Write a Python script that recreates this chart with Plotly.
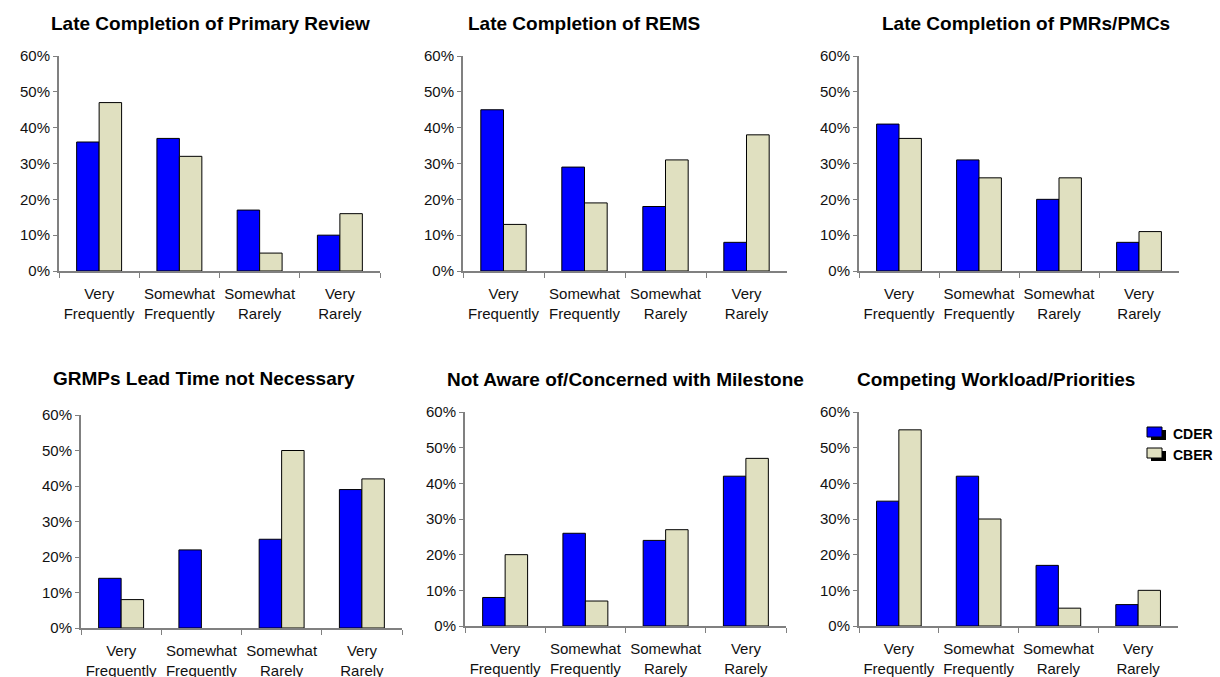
import plotly.graph_objects as go

# Response categories shared by every panel
categories = ["Very<br>Frequently", "Somewhat<br>Frequently", "Somewhat<br>Rarely", "Very<br>Rarely"]

titles = [
    "Late Completion of Primary Review",
    "Late Completion of REMS",
    "Late Completion of PMRs/PMCs",
    "GRMPs Lead Time not Necessary",
    "Not Aware of/Concerned with Milestone",
    "Competing Workload/Priorities",
]

# Share of respondents (fraction) per category
cder_primary_review = [0.36, 0.37, 0.17, 0.10]
cber_primary_review = [0.47, 0.32, 0.05, 0.16]

cder_rems = [0.45, 0.29, 0.18, 0.08]
cber_rems = [0.13, 0.19, 0.31, 0.38]

cder_pmr_pmc = [0.41, 0.31, 0.20, 0.08]
cber_pmr_pmc = [0.37, 0.26, 0.26, 0.11]

cder_grmp_lead = [0.14, 0.22, 0.25, 0.39]
cber_grmp_lead = [0.08, 0.00, 0.50, 0.42]

cder_not_aware = [0.08, 0.26, 0.24, 0.42]
cber_not_aware = [0.20, 0.07, 0.27, 0.47]

cder_workload = [0.35, 0.42, 0.17, 0.06]
cber_workload = [0.55, 0.30, 0.05, 0.10]

cder_series = [cder_primary_review, cder_rems, cder_pmr_pmc,
               cder_grmp_lead, cder_not_aware, cder_workload]
cber_series = [cber_primary_review, cber_rems, cber_pmr_pmc,
               cber_grmp_lead, cber_not_aware, cber_workload]

W, H = 1220, 677
BLUE = "#0000FF"
BEIGE = "#E0E0C0"
AXIS_GRAY = "#808080"
FONT = "Liberation Sans, Arial, sans-serif"

# plot area of each panel in pixels: (left, right, top, bottom)
boxes = [
    (59, 380, 56, 271),
    (463, 787, 56, 271),
    (859, 1179, 56, 271),
    (81, 402, 415, 628),
    (465, 786, 412, 626),
    (859, 1178, 412, 626),
]
# title centre positions in pixels
title_pos = [(210, 23), (584, 23), (1026, 23), (204, 378), (625, 380), (996, 380)]

fig = go.Figure()
layout = {}
annotations = []

for i, (box, title) in enumerate(zip(boxes, titles)):
    n = i + 1
    xa = "x" if n == 1 else f"x{n}"
    ya = "y" if n == 1 else f"y{n}"
    for name, vals, color in (("CDER", cder_series[i], BLUE), ("CBER", cber_series[i], BEIGE)):
        # empty bars get no outline so nothing shows on the baseline
        edge = [0 if v == 0 else 1 for v in vals]
        fig.add_trace(go.Bar(
            x=categories, y=vals, name=name, xaxis=xa, yaxis=ya,
            marker=dict(color=color, line=dict(color="#000000", width=edge)),
            showlegend=False,
        ))
    l, r, t, b = box
    layout[f"xaxis{n if n > 1 else ''}"] = dict(
        domain=[l / W, r / W], anchor=ya, type="category",
        showline=True, linecolor=AXIS_GRAY, linewidth=2,
        ticks="outside", tickson="boundaries", ticklen=5, tickcolor=AXIS_GRAY, tickwidth=1,
        ticklabelstandoff=8, tickangle=0, automargin=False,
        showgrid=False, zeroline=False,
        tickfont=dict(family=FONT, size=15, color="#111111"),
    )
    layout[f"yaxis{n if n > 1 else ''}"] = dict(
        domain=[1 - b / H, 1 - t / H], anchor=xa,
        range=[0, 0.6], dtick=0.1, tickformat=".0%",
        showline=True, linecolor=AXIS_GRAY, linewidth=2,
        ticks="outside", ticklen=4, tickcolor=AXIS_GRAY, tickwidth=1,
        automargin=False,
        showgrid=False, zeroline=False,
        tickfont=dict(family=FONT, size=15, color="#111111"),
    )
    tx, ty = title_pos[i]
    annotations.append(dict(
        text=f"<b>{title}</b>", x=tx / W, y=1 - ty / H, xref="paper", yref="paper",
        xanchor="center", yanchor="middle", showarrow=False,
        font=dict(family=FONT, size=19, color="#000000"),
    ))

# legend with drop-shadowed swatches
shapes = []
for (name, color, top) in (("CDER", BLUE, 427), ("CBER", BEIGE, 448)):
    sx0, sx1, sy0, sy1 = 1147, 1162, top, top + 10
    shapes.append(dict(type="rect", xref="paper", yref="paper",
                       x0=(sx0 + 4) / W, x1=(sx1 + 4) / W,
                       y0=1 - (sy1 + 3) / H, y1=1 - (sy0 + 3) / H,
                       fillcolor="#000000", line=dict(width=0)))
    shapes.append(dict(type="rect", xref="paper", yref="paper",
                       x0=sx0 / W, x1=sx1 / W, y0=1 - sy1 / H, y1=1 - sy0 / H,
                       fillcolor=color, line=dict(color="#000000", width=1)))
    annotations.append(dict(
        text=f"<b>{name}</b>", x=1171 / W, y=1 - (top + 7) / H, xref="paper", yref="paper",
        xanchor="left", yanchor="middle", showarrow=False,
        font=dict(family=FONT, size=14, color="#000000"),
    ))

fig.update_layout(
    width=W, height=H,
    margin=dict(l=0, r=0, t=0, b=0),
    paper_bgcolor="white", plot_bgcolor="white",
    barmode="group", bargap=0.44, bargroupgap=0,
    annotations=annotations, shapes=shapes,
    showlegend=False,
    **layout,
)

fig.write_html("out.html")
